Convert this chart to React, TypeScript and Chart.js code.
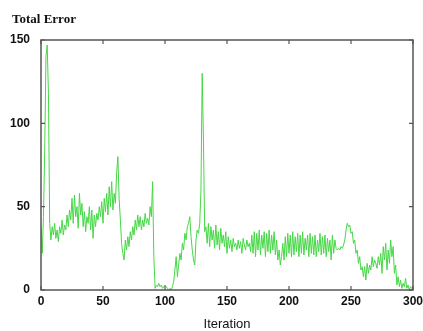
import React, { useEffect, useRef } from "react";
import { Chart, registerables } from "chart.js";

Chart.register(...registerables);

const chartTitle = "Total Error";
const xAxisTitle = "Iteration";
const xTickValues = [0, 50, 100, 150, 200, 250, 300];
const yTickValues = [0, 50, 100, 150];

// Total error per iteration (0..300)
const totalError = [
  38, 22, 44, 85, 140, 147, 118, 40, 30, 38,
  33, 40, 31, 36, 29, 38, 34, 42, 33, 39,
  36, 45, 38, 48, 42, 55, 40, 57, 44, 50,
  37, 58, 45, 52, 38, 47, 35, 44, 40, 50,
  36, 48, 31, 45, 38, 46, 42, 50, 44, 53,
  40, 55, 47, 58, 45, 62, 50, 65, 48, 58,
  52, 70, 80, 55, 42, 28, 22, 18, 30, 24,
  32, 26, 35, 30, 38, 33, 42, 36, 45, 38,
  44, 36, 42, 38, 46, 40, 43, 39, 50, 44,
  65, 20, 1, 3, 2, 4, 2, 3, 1, 2,
  3, 2, 1, 0, 1, 0, 2, 5, 12, 20,
  8, 15, 22, 18, 28, 24, 34, 30, 38, 40,
  44, 32, 24, 18, 15, 30, 36, 34, 40, 60,
  130, 90, 35, 38, 28, 40, 26, 38, 30, 36,
  25, 39, 27, 35, 24, 37, 28, 33, 26, 35,
  22, 32, 25, 30, 23, 31, 26, 28, 24, 30,
  25, 29, 22, 31, 27, 24, 30, 26, 28, 23,
  33, 22, 35, 20, 34, 24, 36, 21, 33, 25,
  35, 20, 34, 23, 36, 22, 33, 24, 35, 21,
  30, 18, 24, 15, 20, 28, 18, 32, 20, 34,
  22, 33, 20, 35, 21, 32, 23, 34, 20, 33,
  22, 35, 21, 31, 24, 33, 20, 34, 22, 32,
  21, 33, 20, 30, 23, 34, 21, 32, 22, 33,
  20, 31, 23, 30, 18, 33, 22, 30, 25, 24,
  25, 24, 26, 25, 27, 30, 36, 40, 38, 39,
  34, 35, 28, 30, 22, 24, 16, 20, 12, 14,
  8, 14, 6, 16, 10, 15, 12, 20, 14, 18,
  16, 13, 20, 15, 22, 10, 26, 18, 28, 12,
  24, 16, 30, 20, 26, 10, 15, 3, 8, 2,
  6, 1, 4, 2, 7, 1, 3, 0, 2, 1,
  0,
];

const framePlugin = {
  id: "frameAndTicks",
  afterDraw(chart: any) {
    const { ctx, chartArea, scales } = chart;
    const { left, right, top, bottom } = chartArea;
    ctx.save();
    ctx.strokeStyle = "#555";
    ctx.lineWidth = 1.5;
    ctx.strokeRect(left, top, right - left, bottom - top);
    ctx.lineWidth = 1.2;
    const tl = 4;
    ctx.beginPath();
    xTickValues.forEach((v) => {
      const px = scales.x.getPixelForValue(v);
      ctx.moveTo(px, bottom);
      ctx.lineTo(px, bottom - tl);
      ctx.moveTo(px, top);
      ctx.lineTo(px, top + tl);
    });
    yTickValues.forEach((v) => {
      const py = scales.y.getPixelForValue(v);
      ctx.moveTo(left, py);
      ctx.lineTo(left + tl, py);
      ctx.moveTo(right, py);
      ctx.lineTo(right - tl, py);
    });
    ctx.stroke();
    ctx.fillStyle = "#111";
    ctx.font = "bold 13px 'Liberation Serif', 'Times New Roman', serif";
    ctx.textAlign = "left";
    ctx.textBaseline = "alphabetic";
    ctx.fillText(chartTitle, 12, 23);
    ctx.restore();
  },
};

export default function App() {
  const canvasRef = useRef<HTMLCanvasElement | null>(null);

  useEffect(() => {
    const canvas = canvasRef.current;
    if (!canvas) return;
    const chart = new Chart(canvas, {
      type: "line",
      data: {
        datasets: [
          {
            data: totalError.map((v, i) => ({ x: i, y: v })),
            borderColor: "rgb(70, 215, 70)",
            borderWidth: 1,
            pointRadius: 0,
            tension: 0,
            fill: false,
          },
        ],
      },
      options: {
        responsive: false,
        animation: false,
        layout: { padding: { left: 0, right: 10, top: 40, bottom: 0 } },
        plugins: {
          legend: { display: false },
          tooltip: { enabled: false },
          title: { display: false },
        },
        scales: {
          x: {
            type: "linear",
            min: 0,
            max: 300,
            afterBuildTicks: (scale: any) => {
              scale.ticks = xTickValues.map((v) => ({ value: v }));
            },
            afterFit: (scale: any) => {
              scale.height = 41;
              scale.paddingLeft = 0;
              scale.paddingRight = 0;
            },
            grid: { display: false, drawTicks: false },
            border: { display: false },
            ticks: {
              padding: 4,
              color: "#111",
              font: { family: "'Liberation Sans', Arial, sans-serif", size: 12, weight: "bold" },
              maxRotation: 0,
            },
            title: {
              display: true,
              text: xAxisTitle,
              color: "#111",
              font: { family: "'Liberation Sans', Arial, sans-serif", size: 13 },
              padding: { top: 0, bottom: -1 },
            },
          },
          y: {
            type: "linear",
            min: 0,
            max: 150,
            afterBuildTicks: (scale: any) => {
              scale.ticks = yTickValues.map((v) => ({ value: v }));
            },
            afterFit: (scale: any) => {
              scale.width = 41;
              scale.paddingTop = 0;
              scale.paddingBottom = 0;
            },
            grid: { display: false, drawTicks: false },
            border: { display: false },
            ticks: {
              padding: 11,
              color: "#111",
              font: { family: "'Liberation Sans', Arial, sans-serif", size: 12, weight: "bold" },
            },
          },
        },
      },
      plugins: [framePlugin],
    });
    return () => chart.destroy();
  }, []);

  return (
    <div style={{ position: "absolute", left: 0, top: 0, width: 423, height: 331, background: "#fff" }}>
      <canvas ref={canvasRef} width={423} height={331} style={{ display: "block" }} />
    </div>
  );
}
